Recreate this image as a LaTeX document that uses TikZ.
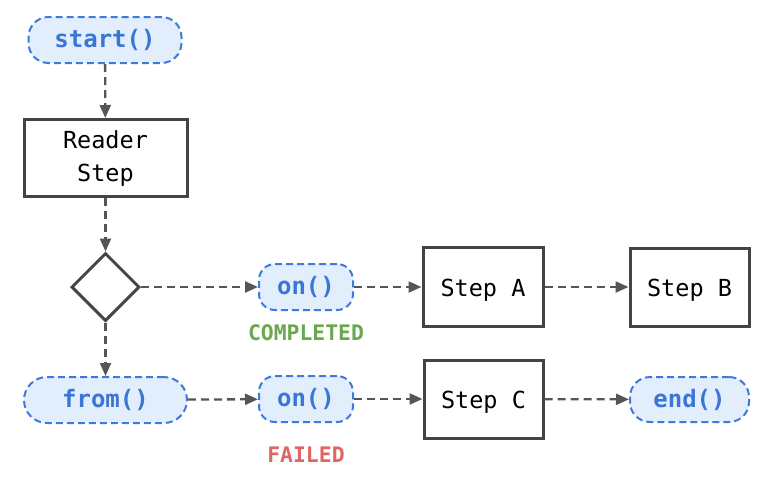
\documentclass[tikz,border=0pt]{standalone}
\usepackage{fontspec}
\setmonofont{DejaVu Sans Mono}
\usetikzlibrary{arrows.meta,shapes.geometric}
\definecolor{pillfill}{HTML}{E3EEFC}
\definecolor{pillline}{HTML}{3D7BDB}
\definecolor{pilltext}{HTML}{3A76D6}
\definecolor{boxline}{HTML}{444444}
\definecolor{arrowc}{HTML}{555555}
\definecolor{okgreen}{HTML}{6AA84F}
\definecolor{failred}{HTML}{E06666}
\tikzset{
  pill/.style={draw=pillline, fill=pillfill, line width=2pt, dash pattern=on 7pt off 4pt,
    rounded corners=#1, minimum height=46pt, inner sep=0pt, text height=19pt, text depth=4pt,
    font=\ttfamily\bfseries\fontsize{24}{28}\selectfont, text=pilltext},
  pill/.default=20pt,
  stepbox/.style={draw=boxline, line width=3pt, minimum height=77pt, inner sep=0pt,
    font=\ttfamily\fontsize{23.5}{33}\selectfont, text=black},
  decide/.style={draw=boxline, line width=3pt, diamond, minimum width=68pt, minimum height=68pt, inner sep=0pt},
  flow/.style={draw=arrowc, line width=2.3pt, dash pattern=on 8pt off 5pt,
    -{Triangle[length=13pt,width=11pt]}},
  cond/.style={font=\ttfamily\bfseries\fontsize{21.4}{26}\selectfont}
}
\begin{document}
\begin{tikzpicture}[x=1pt,y=-1pt]
\useasboundingbox (0,0) rectangle (772,490);
\node[pill, minimum width=153pt] (start) at (105,40) {start()};
\node[stepbox, minimum width=163pt] (reader) at (105.5,158)
  {\raisebox{-4pt}{\begin{tabular}{@{}c@{}}Reader\\Step\end{tabular}}};
\node[decide] (dec) at (105.5,287) {};
\node[pill=16pt, minimum width=94pt] (on1) at (306,287) {on()};
\node[cond, text=okgreen] (ok) at (306,333) {COMPLETED};
\node[stepbox, minimum width=120pt, minimum height=79pt, text height=21pt, text depth=3pt] (stepa) at (483,287) {Step A};
\node[stepbox, minimum width=119pt, minimum height=78pt, text height=21pt, text depth=3pt] (stepb) at (689.5,287) {Step B};
\node[pill=23pt, minimum width=163pt] (from) at (105.5,400) {from()};
\node[pill=16pt, minimum width=94pt] (on2) at (306,399) {on()};
\node[cond, text=failred] (fail) at (306,455) {FAILED};
\node[stepbox, minimum width=119pt, minimum height=78pt, text height=21pt, text depth=3pt] (stepc) at (483.5,399) {Step C};
\node[pill=20pt, minimum width=119pt, minimum height=45pt] (end) at (689.5,399.5) {end()};
\draw[flow] (start) -- (reader);
\draw[flow] (reader) -- (dec);
\draw[flow] (dec) -- (on1);
\draw[flow] (on1) -- (stepa);
\draw[flow] (stepa) -- (stepb);
\draw[flow] (dec) -- (from);
\draw[flow] (from) -- (on2);
\draw[flow] (on2) -- (stepc);
\draw[flow] (stepc) -- (end);
\end{tikzpicture}
\end{document}
